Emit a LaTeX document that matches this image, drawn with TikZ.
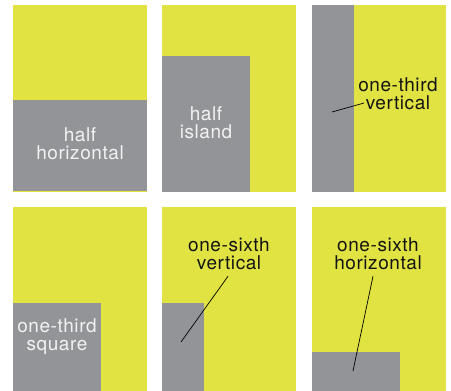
\documentclass[tikz,border=0pt]{standalone}
\usepackage{fontspec}
\setmainfont{TeX Gyre Heros}[LetterSpace=3]
\usetikzlibrary{positioning}
\definecolor{lime}{RGB}{224,227,66}
\definecolor{slate}{RGB}{147,148,152}

\begin{document}
\begin{tikzpicture}[x=1pt, y=-1pt,
  panel/.style={rectangle, fill=lime, inner sep=0pt, outer sep=0pt, anchor=north west, minimum width=134pt},
  block/.style={rectangle, fill=slate, inner sep=0pt, outer sep=0pt, anchor=north west},
  inlabel/.style={inner sep=0pt, align=center, text=white!95!black, font=\fontsize{19}{18}\selectfont},
  outlabel/.style={inner sep=0pt, align=center, text=black!92, font=\fontsize{19}{18}\selectfont},
  leader/.style={draw=black, line width=0.7pt}]

\useasboundingbox (0,0) rectangle (451,391);

% top row
\node[panel, minimum height=187pt] (p1) at (13,5) {};
\node[panel, minimum height=187pt] (p2) at (162,5) {};
\node[panel, minimum height=187pt] (p3) at (312,5) {};
\node[block, minimum width=134pt, minimum height=91pt] (g1) at (13,100) {};
\node[block, minimum width=88pt, minimum height=136pt] (g2) at (162,56) {};
\node[block, minimum width=42pt, minimum height=187pt] (g3) at (312,5) {};

% bottom row
\node[panel, minimum height=184pt] (p4) at (13,207) {};
\node[panel, minimum height=184pt] (p5) at (162,207) {};
\node[panel, minimum height=184pt] (p6) at (312,207) {};
\node[block, minimum width=88pt, minimum height=88pt] (g4) at (13,303) {};
\node[block, minimum width=42pt, minimum height=88pt] (g5) at (162,303) {};
\node[block, minimum width=88pt, minimum height=39pt] (g6) at (312,352) {};

% labels
\node[inlabel] (t1) at (80,144) {half\\horizontal};
\node[inlabel] (t2) at (206,122.5) {half\\island};
\node[outlabel] (t3) at (398,93.5) {one-third\\vertical};
\node[inlabel] (t4) at (57,336.5) {one-third\\square};
\node[outlabel] (t5) at (229,254) {one-sixth\\vertical};
\node[outlabel] (t6) at (378,254) {one-sixth\\horizontal};

% leaders
\coordinate (c3) at (332,112);
\coordinate (c5) at (181,342);
\coordinate (c6) at (353,371);
\draw[leader] (c3) -- ([shift={(6,9.5)}]t3.west);
\draw[leader] ([shift={(-1,6)}]t5.south) -- (c5);
\draw[leader] ([shift={(-5,6)}]t6.south) -- (c6);

\end{tikzpicture}
\end{document}
